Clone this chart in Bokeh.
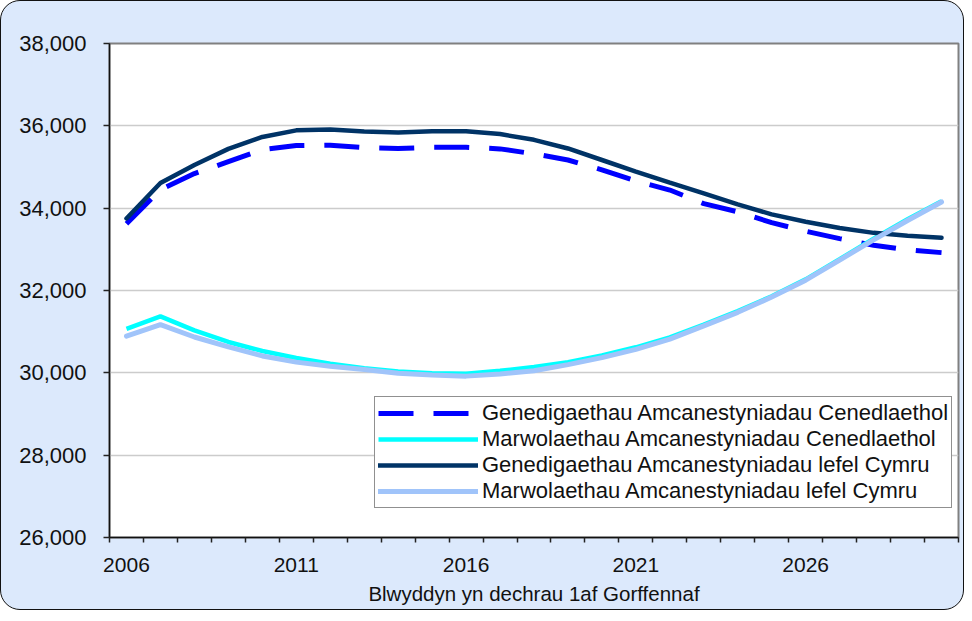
from bokeh.plotting import figure
from bokeh.models import Range1d, FixedTicker, NumeralTickFormatter, Legend, LegendItem
from bokeh.embed import file_html
from bokeh.resources import INLINE

years = list(range(2006, 2031))

births_national = [33620, 34450, 34840, 35130, 35420, 35520, 35530, 35470, 35450, 35480,
                   35480, 35440, 35320, 35170, 34930, 34660, 34440, 34110, 33910, 33650,
                   33440, 33260, 33100, 32990, 32920]
deaths_national = [31070, 31370, 31030, 30750, 30530, 30360, 30220, 30110, 30030, 29990,
                   29980, 30050, 30140, 30260, 30420, 30620, 30860, 31170, 31500, 31860,
                   32270, 32760, 33260, 33730, 34170]
births_wales = [33750, 34610, 35050, 35440, 35730, 35890, 35910, 35860, 35840, 35870,
                35870, 35800, 35660, 35450, 35170, 34890, 34620, 34360, 34090, 33850,
                33670, 33520, 33400, 33330, 33280]
deaths_wales = [30890, 31170, 30870, 30630, 30410, 30260, 30160, 30080, 29990, 29950,
                29920, 29970, 30050, 30200, 30370, 30570, 30820, 31140, 31470, 31840,
                32250, 32740, 33230, 33700, 34150]

labels = ["Genedigaethau Amcanestyniadau Cenedlaethol",
          "Marwolaethau Amcanestyniadau Cenedlaethol",
          "Genedigaethau Amcanestyniadau lefel Cymru",
          "Marwolaethau Amcanestyniadau lefel Cymru"]

y_ticks = list(range(26000, 38001, 2000))
x_label_years = years[::5]
x_title = "Blwyddyn yn dechrau 1af Gorffennaf"

FONT = "Liberation Sans"

p = figure(width=964, height=610, output_backend="svg", toolbar_location=None,
           x_range=Range1d(years[0] - 0.5, years[-1] + 0.5),
           y_range=Range1d(y_ticks[0], y_ticks[-1]),
           min_border_left=108, min_border_top=42, min_border_right=7, min_border_bottom=74)
p.border_fill_alpha = 0
p.background_fill_color = "white"
p.styles = {"border-radius": "20px", "border": "1.5px solid #111", "background-color": "#DCE9FC",
            "overflow": "hidden", "box-sizing": "border-box"}
p.outline_line_color = "#808080"
p.outline_line_width = 2

r1 = p.line(years, births_national, line_color="#0000FF", line_width=5, line_dash="35 20")
r2 = p.line(years, deaths_national, line_color="#00FFFF", line_width=4.5)
r3 = p.line(years, births_wales, line_color="#003366", line_width=4.5, line_cap="round")
r4 = p.line(years, deaths_wales, line_color="#A0C4FA", line_width=5, line_cap="round")

# axes
p.xaxis.ticker = FixedTicker(ticks=x_label_years,
                             minor_ticks=[y - 0.5 for y in years] + [years[-1] + 0.5])
p.xaxis.major_tick_out = 0
p.xaxis.major_tick_in = 0
p.xaxis.minor_tick_out = 5
p.xaxis.minor_tick_in = 0
p.xaxis.minor_tick_line_color = "#222"
p.xaxis.minor_tick_line_width = 1.5
p.xaxis.major_label_standoff = 15
p.xaxis.axis_label = x_title
p.xaxis.axis_label_standoff = 7

p.yaxis.ticker = FixedTicker(ticks=y_ticks, minor_ticks=[])
p.yaxis.formatter = NumeralTickFormatter(format="0,0")
p.yaxis.major_tick_out = 6
p.yaxis.major_tick_in = 0
p.yaxis.major_label_standoff = 17

for ax in (p.xaxis, p.yaxis):
    ax.axis_line_color = "#111"
    ax.axis_line_width = 1.5
    ax.major_tick_line_color = "#222"
    ax.major_tick_line_width = 1.5
    ax.major_label_text_font = FONT
    ax.major_label_text_color = "#111"
    ax.axis_label_text_font = FONT
    ax.axis_label_text_font_size = "20.5px"
    ax.axis_label_text_font_style = "normal"
    ax.axis_label_text_color = "#111"
p.xaxis.major_label_text_font_size = "21px"
p.yaxis.major_label_text_font_size = "22px"

p.xgrid.visible = False
p.ygrid.grid_line_color = "#CCCCCC"
p.ygrid.grid_line_width = 1.5

legend = Legend(items=[LegendItem(label=labels[0], renderers=[r1]),
                       LegendItem(label=labels[1], renderers=[r2]),
                       LegendItem(label=labels[2], renderers=[r3]),
                       LegendItem(label=labels[3], renderers=[r4])],
                location=(265, 29))
legend.border_line_color = "#222"
legend.border_line_width = 1.2
legend.background_fill_color = "white"
legend.background_fill_alpha = 1
legend.padding = 3
legend.margin = 0
legend.spacing = 0
legend.glyph_width = 100
legend.glyph_height = 24
legend.label_height = 24
legend.label_standoff = 4
legend.label_text_font = FONT
legend.label_text_font_size = "22px"
legend.label_text_color = "#111"
p.add_layout(legend, "center")

open("out.html", "w").write(file_html(p, INLINE))
